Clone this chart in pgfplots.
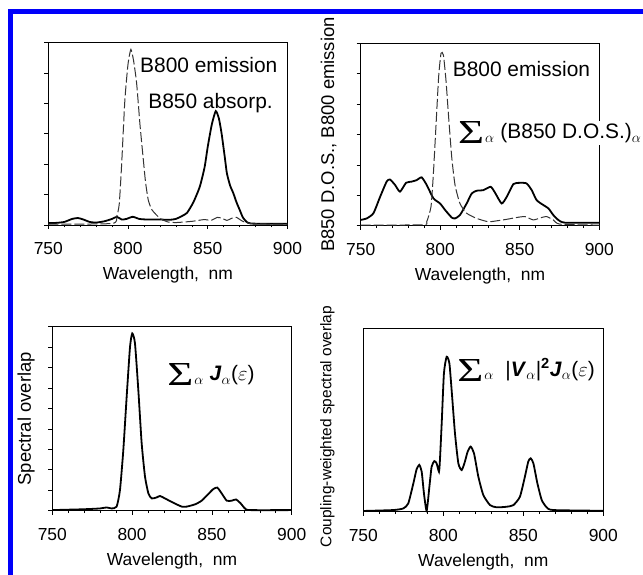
\documentclass[border=0pt]{standalone}
\usepackage{amsmath}
\usepackage{graphicx}
\usepackage{pgfplots}
\pgfplotsset{compat=1.18}
\usepackage{fontspec}
\setmainfont{Liberation Sans}
\newfontfamily\serifsym{Liberation Serif}
\definecolor{bblue}{RGB}{0,0,250}
\pgfplotsset{
  panel/.style={
    scale only axis,
    xmin=750, xmax=900,
    xtick={750,800,850,900},
    minor x tick num=4,
    tick pos=left,
    tick align=outside,
    axis line style={line width=0.8bp},
    major tick style={black, line width=0.7bp},
    minor tick style={black, line width=0.5bp},
    major tick length=4bp,
    minor tick length=2.5bp,
    yticklabels={},
    /pgf/number format/assume math mode=true,
    /pgf/number format/set thousands separator={},
    xticklabel style={font=\fontsize{17.5}{20}\selectfont, yshift=-10bp},
    xlabel={Wavelength,\ \ nm},
    xlabel style={font=\fontsize{17.5}{20}\selectfont, yshift=-5bp},
    ylabel style={font=\fontsize{18.5}{20}\selectfont, anchor=center, rotate=0},
    clip=false,
  },
  solidc/.style={black, line width=1.8bp, smooth, tension=0.35},
  dashc/.style={black!80, line width=1bp, dash pattern=on 10bp off 3bp, smooth, tension=0.35},
}
\newcommand{\inlab}{\fontsize{21}{24}\selectfont}
\newcommand{\bsum}{\raisebox{-5bp}{\resizebox{26bp}{22bp}{\serifsym Σ}}\kern1bp}
\begin{document}
\begin{tikzpicture}
\path[use as bounding box] (0bp,0bp) rectangle (643bp,575bp);
\fill[bblue] (7.5bp,561bp) rectangle (643bp,565.5bp);
\fill[bblue] (7.5bp,0bp) rectangle (13.3bp,565.5bp);

% Panel 1
\begin{axis}[panel, at={(48.3bp,350bp)}, anchor=south west,
  width=239.2bp, height=182.3bp, ymin=0, ymax=6, ytick={0,...,6}]
\addplot[solidc] coordinates {
(750,0.06) (755,0.07) (760,0.10) (765,0.20) (768.6,0.23) (772,0.18) (776,0.10)
(780,0.08) (785,0.12) (790,0.20) (793,0.27) (796,0.18) (799,0.20) (803,0.27)
(807,0.20) (812,0.18) (820,0.18) (826,0.17) (830,0.20) (834,0.30) (837,0.40)
(841,0.75) (845,1.26) (848,1.90) (850,2.58) (852.5,3.30) (855,3.75) (857,3.50)
(858.7,3.00) (860.5,2.30) (862,1.70) (864,1.30) (866,1.05) (868,0.75) (870,0.50)
(872,0.25) (874.4,0.10) (877,0.05) (885,0.04) (900,0.04)};
\addplot[dashc] coordinates {
(750,0.03) (790,0.05) (793,0.30) (794.5,0.70) (796,2.00) (798,4.10) (800,5.30)
(801.8,5.78) (803.5,5.40) (805.4,4.66) (807.5,3.30) (809.6,2.14) (811,1.40)
(812.7,0.82) (815,0.50) (820,0.22) (825,0.10) (830,0.08) (840,0.12) (848,0.18)
(852,0.15) (856,0.25) (859,0.22) (862,0.15) (865,0.22) (868,0.25) (872,0.12)
(878,0.04) (900,0.03)};
\node[anchor=west, font=\inlab, inner sep=0pt] at (axis cs:807.5,5.26) {B800 emission};
\node[anchor=west, font=\inlab, inner sep=0pt] at (axis cs:812.6,4.01) {B850 absorp.};
\end{axis}

% Panel 2
\begin{axis}[panel, at={(360.7bp,349.3bp)}, anchor=south west,
  width=238.6bp, height=182.4bp, ymin=0, ymax=6, ytick={0,...,6},
  ylabel={B850 D.O.S., B800 emission},
  ylabel style={at={(axis description cs:-0.134,0.5)}, rotate=0}]
\addplot[solidc] coordinates {
(750,0.19) (753.8,0.24) (758,0.41) (762.2,0.95) (766.3,1.45) (768.4,1.52)
(771.6,1.34) (774.7,1.12) (778.5,1.41) (782,1.45) (785.2,1.50) (788.3,1.59)
(791.5,1.34) (795.7,0.90) (799.9,0.73) (803,0.52) (807.2,0.27) (809.3,0.24)
(812.4,0.35) (816.6,0.73) (819.8,1.06) (822.9,1.15) (827.1,1.17) (831.7,1.28)
(834.4,1.09) (838.6,0.73) (841.8,0.95) (846,1.37) (850.1,1.41) (854.3,1.39)
(857.5,1.17) (860.6,0.84) (864.8,0.68) (868,0.57) (871.1,0.35) (874.2,0.19)
(878.4,0.10) (900,0.10)};
\addplot[dashc] coordinates {
(750,0.02) (789,0.03) (791.5,0.13) (794.2,0.63) (795.7,1.72) (797.3,3.26)
(799,4.90) (800.5,5.67) (802,5.61) (803.6,4.79) (805.1,3.70) (807.2,2.27)
(809.3,1.34) (812.4,0.73) (816.6,0.41) (822.9,0.24) (830.2,0.13) (835.5,0.16)
(841.8,0.21) (848.1,0.27) (853.3,0.30) (858.5,0.19) (863.8,0.27) (866.9,0.30)
(871.1,0.19) (875.3,0.05) (900,0.02)};
\node[anchor=west, font=\inlab, inner sep=0pt] at (axis cs:807.8,5.15) {B800 emission};
\node[anchor=west, font=\inlab, inner sep=1pt, fill=white] at (axis cs:810.5,3.05)
  {\bsum$_{\alpha}$ (B850 D.O.S.)$_{\alpha}$};
\end{axis}

% Panel 3
\begin{axis}[panel, at={(52.3bp,64.3bp)}, anchor=south west,
  width=239.4bp, height=184bp, ymin=0, ymax=9, ytick={0,...,9},
  ylabel={Spectral overlap},
  ylabel style={at={(axis description cs:-0.109,0.5)}}]
\addplot[solidc] coordinates {
(750,0.03) (769.4,0.07) (779.9,0.11) (784,0.16) (787.2,0.11) (790.3,0.20)
(792.4,1.01) (794.5,2.97) (796.6,5.58) (798.7,8.02) (800.1,8.67) (801.8,8.19)
(803.9,5.90) (806,3.29) (808.1,1.66) (810.2,0.85) (812.3,0.60) (815.4,0.65)
(817.5,0.72) (820.6,0.60) (825.8,0.39) (831.1,0.20) (834.2,0.20) (839.4,0.31)
(843.6,0.49) (847.8,0.82) (850.9,1.06) (853.4,1.13) (856.1,0.85) (859.3,0.49)
(862.4,0.49) (865.1,0.55) (868,0.36) (870.7,0.11) (873.9,0.03) (900,0.03)};
\node[anchor=west, font=\inlab, inner sep=0pt] at (axis cs:821.9,6.64)
  {\bsum$_{\alpha}$ \textbf{\textit{J}}$_{\alpha}$($\varepsilon$)};
\end{axis}

% Panel 4
\begin{axis}[panel, at={(363.3bp,63.3bp)}, anchor=south west,
  width=240bp, height=183.4bp, ymin=0, ymax=10, ytick=\empty,
  ylabel={Coupling-weighted spectral overlap},
  ylabel style={at={(axis description cs:-0.15,0.465)}, font=\fontsize{15.5}{18}\selectfont}]
\addplot[solidc] coordinates {
(750,0.04) (768.8,0.09) (775,0.18) (778.1,0.45) (781.3,1.55) (783.3,2.31)
(785,2.55) (786.5,2.18) (787.9,1.00) (789.6,0.05) (791.3,1.36) (792.7,2.45)
(794.4,2.76) (795.8,2.64) (797.3,2.18) (797.9,2.82) (799,4.82) (800.4,7.55)
(802.1,8.45) (803.8,8.09) (805.2,6.64) (807.3,4.27) (809.4,2.64) (811.5,2.27)
(813.5,2.73) (815.2,3.27) (817.1,3.55) (819.2,3.18) (821.9,1.91) (825,0.91)
(829.2,0.36) (833.3,0.24) (839.6,0.27) (843.8,0.36) (847.9,0.82) (851,1.91)
(853.1,2.73) (854.6,2.91) (856.3,2.64) (858.8,1.55) (861.5,0.64) (864.6,0.24)
(868.8,0.09) (900,0.05)};
\node[anchor=west, font=\inlab, inner sep=0pt] at (axis cs:808.6,7.73)
  {\bsum$_{\alpha}$\ \ |\textbf{\textit{V}}$_{\alpha}$|$^{\mathbf{2}}$\textbf{\textit{J}}$_{\alpha}$($\varepsilon$)};
\end{axis}
\end{tikzpicture}
\end{document}
